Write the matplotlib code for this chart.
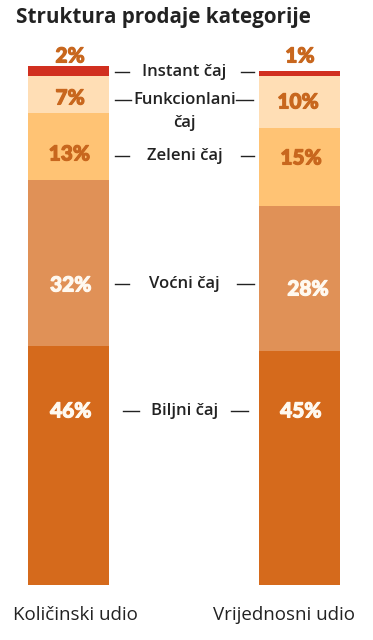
import matplotlib.pyplot as plt
import matplotlib.patheffects as pe
import numpy as np

plt.rcParams['font.family'] = ['Open Sans', 'DejaVu Sans']

# podaci
categories = ['Biljni čaj', 'Voćni čaj', 'Zeleni čaj', 'Funkcionlani\nčaj', 'Instant čaj']
bars = ['Količinski udio', 'Vrijednosni udio']
kolicinski = [46, 32, 13, 7, 2]
vrijednosni = [45, 28, 15, 10, 1]
colors = ['#D56A1C', '#E09157', '#FFC374', '#FFDEB5', '#D12F1F']
text_colors = ['#FFF9F0', '#FFF9F0', '#C8671E', '#C8671E', '#C8671E']

# položaji oznaka (y u jedinicama postotka)
px = 5.19  # piksela po postotku
base = 585
def py(p):
    return (base - p) / px

left_label_y = [py(411), py(285), py(154), py(98), py(56)]
right_label_y = [py(411), py(289), py(158), py(102), py(56)]
left_label_dx = [0.01, 0.01, 0.004, 0.007, 0.007]
right_label_dx = [0.006, 0.037, 0.007, -0.006, 0.002]
cat_y = [py(411), py(284), py(156), py(100), py(72)]

fig = plt.figure(figsize=(3.73, 6.4), dpi=100)
ax = fig.add_axes([0, 0, 1, 1])
ax.set_xlim(-68.5 / 231, (373 - 68.5) / 231)
ax.set_ylim(py(640), py(0))
ax.axis('off')

x = np.arange(len(bars))
width = 81 / 231
bottoms = np.zeros(2)
for i, c in enumerate(colors):
    vals = np.array([kolicinski[i], vrijednosni[i]])
    ax.bar(x, vals, width=width, bottom=bottoms, color=c, linewidth=0)
    bottoms += vals

# postoci
for i in range(len(categories)):
    for j, (vals, ys, dx) in enumerate([(kolicinski, left_label_y, left_label_dx),
                                        (vrijednosni, right_label_y, right_label_dx)]):
        ax.text(x[j] + dx[i], ys[i], f"{vals[i]}%", ha='center', va='center',
                fontsize=15, fontweight='black', color=text_colors[i],
                family=['Lato', 'DejaVu Sans'],
                path_effects=[pe.withStroke(linewidth=0.8, foreground=text_colors[i])])

# nazivi kategorija s crticama
mid = 184.5 / 231 - 68.5 / 231
line_spans = [((123, 139), (231, 248)), ((115, 129), (237, 254)), ((115, 129), (241, 254)),
              ((115, 131), (236, 253)), ((115, 129), (241, 254))]
for i, cat in enumerate(categories):
    if '\n' in cat:
        first, second = cat.split('\n')
        ax.text(mid, cat_y[i], first, ha='center', va='center', fontsize=12,
                fontweight='semibold', color='#222222')
        ax.text(mid, cat_y[i] - 23 / px, second, ha='center', va='center', fontsize=12,
                fontweight='semibold', color='#222222')
    else:
        ax.text(mid, cat_y[i], cat, ha='center', va='center', fontsize=12,
                fontweight='semibold', color='#222222')
    for a, b in line_spans[i]:
        ax.plot([(a - 68.5) / 231, (b - 68.5) / 231], [cat_y[i], cat_y[i]],
                color='#222222', lw=1)

# nazivi stupaca
ax.text((75.5 - 68.5) / 231, py(615), bars[0], ha='center', va='center',
        fontsize=13.5, fontweight='medium', color='#222222')
ax.text((283.5 - 68.5) / 231, py(615), bars[1], ha='center', va='center',
        fontsize=13.5, fontweight='medium', color='#222222')

fig.text(16 / 373, 1 - 18 / 640, 'Struktura prodaje kategorije', ha='left', va='center',
         fontsize=14.9, fontweight='bold', color='#222222')

fig.savefig('out.png', dpi=100)
